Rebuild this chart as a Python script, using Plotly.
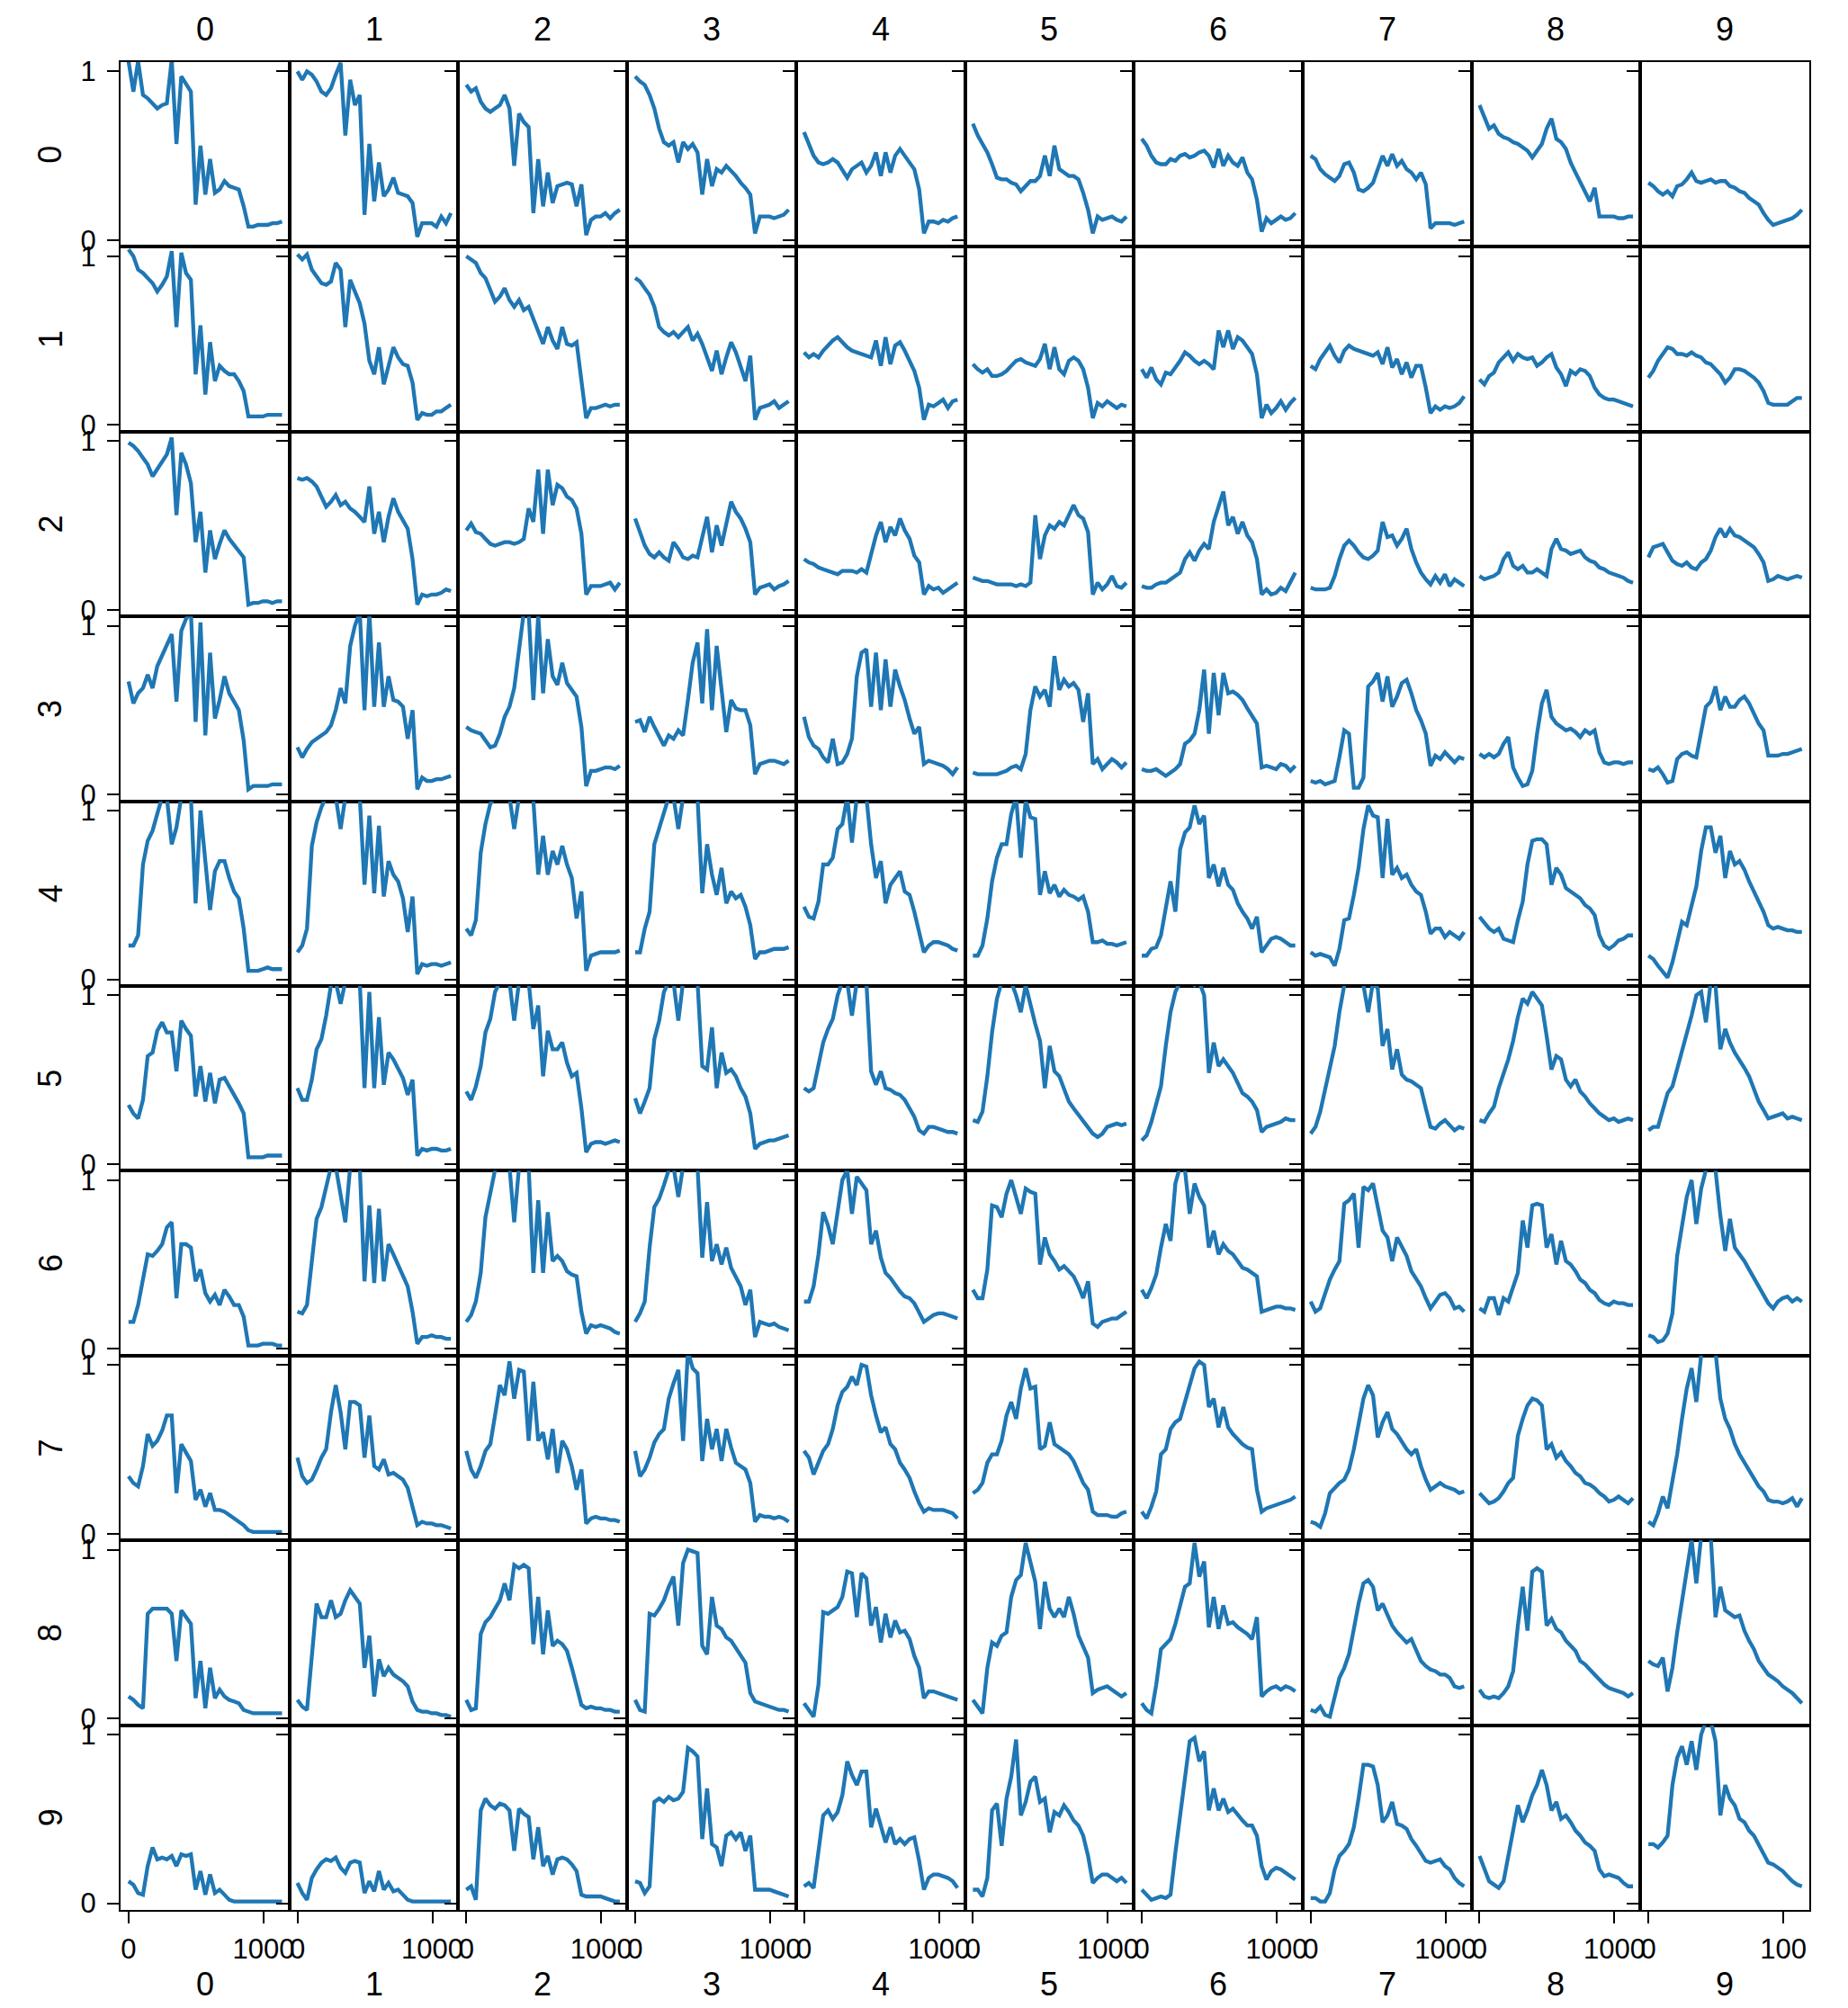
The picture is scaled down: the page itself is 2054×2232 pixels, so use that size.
import plotly.graph_objects as go
from plotly.subplots import make_subplots

# shared sample positions along the x axis
x_samples = [0, 36, 71, 107, 142, 178, 213, 249, 284, 320, 355, 391, 426, 462, 497, 533, 569,
             604, 640, 675, 711, 746, 782, 817, 853, 888, 924, 959, 995, 1030, 1066, 1101, 1137]

col_labels = ["0", "1", "2", "3", "4", "5", "6", "7", "8", "9"]
row_labels = ["0", "1", "2", "3", "4", "5", "6", "7", "8", "9"]
x_tick_values = [0, 1000]
x_tick_text = ["0", "1000"]
x_tick_text_last = ["0", "100"]
y_tick_values = [0, 1]
y_tick_text = ["0", "1"]

row0 = [
    [1.06,0.88,1.06,0.86,0.84,0.81,0.78,0.80,0.81,1.07,0.57,0.97,0.92,0.88,0.21,0.56,0.27,0.48,0.28,0.30,0.35,0.32,0.31,0.30,0.20,0.08,0.08,0.09,0.09,0.09,0.10,0.10,0.11],
    [1.00,0.95,1.00,0.98,0.94,0.88,0.86,0.90,0.98,1.05,0.62,0.95,0.80,0.86,0.15,0.57,0.23,0.46,0.26,0.30,0.37,0.28,0.27,0.26,0.22,0.02,0.10,0.10,0.10,0.08,0.14,0.10,0.16],
    [0.92,0.88,0.90,0.82,0.78,0.76,0.78,0.80,0.86,0.78,0.44,0.75,0.70,0.67,0.16,0.48,0.20,0.40,0.22,0.32,0.33,0.34,0.33,0.20,0.33,0.03,0.12,0.14,0.14,0.16,0.13,0.16,0.18],
    [0.97,0.94,0.92,0.86,0.78,0.66,0.58,0.56,0.58,0.46,0.58,0.54,0.57,0.52,0.27,0.48,0.32,0.42,0.40,0.44,0.41,0.38,0.34,0.31,0.27,0.04,0.14,0.14,0.14,0.13,0.14,0.15,0.18],
    [0.64,0.57,0.50,0.46,0.45,0.46,0.48,0.46,0.42,0.37,0.42,0.44,0.46,0.40,0.44,0.52,0.38,0.52,0.40,0.50,0.54,0.50,0.46,0.42,0.30,0.04,0.11,0.11,0.10,0.12,0.11,0.13,0.14],
    [0.69,0.62,0.57,0.52,0.45,0.37,0.36,0.36,0.34,0.33,0.29,0.32,0.35,0.35,0.38,0.50,0.38,0.56,0.42,0.40,0.38,0.38,0.36,0.28,0.18,0.04,0.14,0.12,0.13,0.14,0.12,0.11,0.14],
    [0.60,0.56,0.50,0.46,0.45,0.45,0.48,0.47,0.50,0.51,0.49,0.50,0.52,0.53,0.50,0.43,0.54,0.44,0.50,0.46,0.44,0.49,0.40,0.36,0.24,0.05,0.13,0.10,0.12,0.14,0.12,0.13,0.16],
    [0.50,0.48,0.42,0.39,0.37,0.35,0.38,0.45,0.46,0.40,0.30,0.29,0.31,0.34,0.42,0.50,0.44,0.51,0.44,0.47,0.42,0.40,0.36,0.40,0.33,0.07,0.10,0.10,0.10,0.10,0.09,0.10,0.11],
    [0.80,0.73,0.66,0.68,0.63,0.61,0.60,0.58,0.57,0.55,0.53,0.49,0.53,0.57,0.66,0.72,0.60,0.58,0.54,0.46,0.40,0.34,0.28,0.23,0.31,0.14,0.14,0.14,0.14,0.13,0.13,0.14,0.14],
    [0.34,0.32,0.29,0.27,0.29,0.26,0.32,0.33,0.36,0.40,0.35,0.34,0.35,0.36,0.34,0.35,0.35,0.32,0.31,0.29,0.28,0.25,0.23,0.21,0.16,0.12,0.09,0.10,0.11,0.12,0.13,0.15,0.18],
]
row1 = [
    [1.04,1.00,0.92,0.90,0.87,0.84,0.79,0.83,0.88,1.03,0.58,1.02,0.90,0.86,0.30,0.59,0.18,0.49,0.26,0.35,0.32,0.30,0.30,0.26,0.20,0.05,0.05,0.05,0.05,0.06,0.06,0.06,0.06],
    [1.01,0.98,1.01,0.92,0.88,0.84,0.83,0.85,0.96,0.92,0.58,0.86,0.79,0.72,0.60,0.38,0.30,0.46,0.24,0.35,0.46,0.40,0.36,0.35,0.25,0.03,0.07,0.06,0.06,0.08,0.08,0.10,0.12],
    [1.00,0.98,0.96,0.90,0.87,0.80,0.73,0.76,0.81,0.74,0.70,0.74,0.68,0.70,0.63,0.56,0.48,0.58,0.50,0.45,0.58,0.48,0.47,0.49,0.28,0.04,0.10,0.10,0.11,0.12,0.11,0.12,0.12],
    [0.87,0.85,0.81,0.77,0.70,0.58,0.55,0.53,0.55,0.52,0.55,0.58,0.50,0.54,0.48,0.40,0.32,0.44,0.30,0.40,0.49,0.43,0.34,0.26,0.41,0.03,0.10,0.11,0.12,0.14,0.10,0.12,0.14],
    [0.43,0.40,0.42,0.40,0.44,0.47,0.50,0.52,0.49,0.46,0.44,0.43,0.42,0.41,0.40,0.50,0.35,0.52,0.36,0.47,0.49,0.44,0.38,0.32,0.22,0.03,0.12,0.11,0.13,0.15,0.10,0.14,0.15],
    [0.36,0.33,0.31,0.33,0.29,0.29,0.30,0.32,0.35,0.38,0.39,0.37,0.36,0.35,0.39,0.48,0.33,0.46,0.33,0.30,0.38,0.40,0.38,0.33,0.22,0.04,0.13,0.11,0.14,0.12,0.10,0.12,0.11],
    [0.33,0.28,0.34,0.27,0.24,0.31,0.30,0.34,0.38,0.43,0.41,0.38,0.36,0.38,0.36,0.33,0.56,0.46,0.56,0.45,0.52,0.50,0.46,0.42,0.30,0.04,0.12,0.07,0.10,0.14,0.09,0.13,0.16],
    [0.35,0.33,0.39,0.43,0.47,0.41,0.37,0.44,0.47,0.45,0.44,0.43,0.42,0.41,0.43,0.36,0.46,0.34,0.39,0.30,0.37,0.28,0.35,0.35,0.22,0.07,0.11,0.09,0.11,0.10,0.11,0.13,0.17],
    [0.27,0.24,0.29,0.31,0.37,0.40,0.43,0.38,0.42,0.40,0.39,0.40,0.35,0.37,0.40,0.42,0.34,0.30,0.23,0.32,0.30,0.33,0.32,0.29,0.22,0.18,0.16,0.15,0.15,0.14,0.13,0.12,0.11],
    [0.28,0.32,0.38,0.42,0.46,0.45,0.42,0.42,0.41,0.43,0.41,0.40,0.37,0.36,0.33,0.30,0.25,0.28,0.33,0.33,0.32,0.30,0.28,0.25,0.20,0.13,0.12,0.12,0.12,0.12,0.14,0.16,0.16],
]
row2 = [
    [0.99,0.97,0.94,0.90,0.86,0.79,0.83,0.88,0.92,1.02,0.56,0.93,0.86,0.75,0.40,0.58,0.22,0.47,0.30,0.39,0.47,0.42,0.38,0.35,0.31,0.03,0.04,0.04,0.05,0.05,0.04,0.05,0.05],
    [0.78,0.77,0.78,0.76,0.73,0.67,0.61,0.64,0.68,0.62,0.64,0.60,0.58,0.55,0.52,0.73,0.45,0.58,0.40,0.55,0.66,0.58,0.53,0.48,0.30,0.03,0.09,0.08,0.09,0.09,0.10,0.12,0.11],
    [0.47,0.51,0.46,0.45,0.42,0.39,0.38,0.39,0.40,0.40,0.39,0.40,0.42,0.60,0.52,0.83,0.45,0.83,0.62,0.74,0.72,0.67,0.65,0.60,0.45,0.09,0.14,0.14,0.14,0.15,0.16,0.12,0.16],
    [0.54,0.45,0.38,0.33,0.31,0.34,0.31,0.29,0.40,0.36,0.31,0.30,0.32,0.31,0.43,0.55,0.34,0.50,0.38,0.52,0.64,0.58,0.54,0.48,0.40,0.09,0.13,0.14,0.15,0.12,0.14,0.15,0.17],
    [0.30,0.28,0.27,0.25,0.24,0.23,0.22,0.21,0.23,0.23,0.23,0.22,0.24,0.22,0.34,0.44,0.52,0.40,0.49,0.44,0.54,0.47,0.42,0.32,0.28,0.09,0.14,0.12,0.13,0.10,0.12,0.14,0.16],
    [0.19,0.18,0.17,0.17,0.16,0.15,0.15,0.15,0.15,0.14,0.15,0.14,0.16,0.56,0.30,0.44,0.50,0.48,0.52,0.50,0.56,0.62,0.56,0.54,0.46,0.09,0.16,0.12,0.15,0.20,0.14,0.13,0.16],
    [0.14,0.13,0.13,0.15,0.16,0.16,0.18,0.20,0.22,0.30,0.34,0.29,0.35,0.39,0.36,0.52,0.62,0.70,0.50,0.55,0.45,0.52,0.44,0.40,0.30,0.09,0.12,0.09,0.10,0.13,0.11,0.17,0.22],
    [0.13,0.12,0.12,0.12,0.13,0.20,0.30,0.38,0.41,0.38,0.34,0.31,0.30,0.32,0.35,0.52,0.43,0.44,0.38,0.42,0.48,0.36,0.28,0.22,0.18,0.15,0.20,0.16,0.21,0.14,0.18,0.16,0.14],
    [0.20,0.18,0.19,0.20,0.22,0.30,0.34,0.26,0.24,0.26,0.22,0.22,0.24,0.22,0.20,0.36,0.42,0.36,0.35,0.33,0.34,0.35,0.31,0.29,0.28,0.25,0.24,0.22,0.21,0.20,0.19,0.17,0.16],
    [0.31,0.37,0.38,0.39,0.34,0.29,0.27,0.26,0.28,0.25,0.24,0.28,0.30,0.35,0.43,0.48,0.43,0.48,0.44,0.43,0.41,0.39,0.37,0.33,0.28,0.17,0.18,0.20,0.19,0.18,0.19,0.20,0.19],
]
row3 = [
    [0.67,0.54,0.60,0.63,0.71,0.63,0.76,0.82,0.88,0.95,0.55,0.97,1.04,1.08,0.43,1.02,0.35,0.84,0.45,0.56,0.70,0.60,0.55,0.50,0.32,0.03,0.05,0.05,0.05,0.05,0.06,0.06,0.06],
    [0.28,0.22,0.27,0.31,0.33,0.35,0.37,0.41,0.50,0.63,0.54,0.88,1.00,1.08,0.50,1.08,0.52,0.90,0.52,0.70,0.56,0.55,0.52,0.33,0.50,0.03,0.10,0.08,0.08,0.09,0.09,0.10,0.11],
    [0.40,0.38,0.37,0.36,0.32,0.28,0.29,0.36,0.46,0.52,0.63,0.86,1.08,1.08,0.56,1.06,0.60,0.92,0.70,0.65,0.78,0.66,0.62,0.58,0.40,0.05,0.14,0.14,0.15,0.16,0.16,0.15,0.17],
    [0.43,0.44,0.37,0.46,0.40,0.34,0.29,0.35,0.33,0.38,0.35,0.56,0.78,0.90,0.54,0.98,0.50,0.88,0.60,0.37,0.56,0.51,0.50,0.50,0.41,0.12,0.18,0.19,0.20,0.20,0.19,0.18,0.20],
    [0.46,0.34,0.29,0.27,0.22,0.19,0.33,0.18,0.19,0.24,0.33,0.70,0.84,0.86,0.52,0.84,0.50,0.80,0.52,0.74,0.64,0.56,0.45,0.36,0.40,0.18,0.20,0.19,0.18,0.17,0.15,0.12,0.16],
    [0.13,0.12,0.12,0.12,0.12,0.12,0.13,0.14,0.16,0.17,0.15,0.24,0.50,0.64,0.58,0.62,0.52,0.82,0.62,0.68,0.64,0.66,0.62,0.43,0.60,0.18,0.21,0.15,0.18,0.21,0.19,0.16,0.19],
    [0.15,0.14,0.14,0.15,0.13,0.11,0.13,0.15,0.18,0.30,0.32,0.36,0.50,0.74,0.36,0.72,0.47,0.72,0.60,0.61,0.59,0.56,0.51,0.46,0.42,0.16,0.17,0.16,0.15,0.18,0.17,0.14,0.17],
    [0.08,0.07,0.08,0.06,0.07,0.08,0.22,0.38,0.36,0.04,0.04,0.10,0.64,0.67,0.72,0.55,0.70,0.52,0.58,0.66,0.68,0.60,0.50,0.44,0.36,0.17,0.23,0.21,0.25,0.22,0.19,0.22,0.21],
    [0.24,0.22,0.24,0.22,0.24,0.30,0.34,0.16,0.10,0.05,0.06,0.14,0.36,0.54,0.62,0.46,0.42,0.40,0.38,0.39,0.37,0.34,0.38,0.36,0.38,0.25,0.19,0.18,0.19,0.19,0.18,0.19,0.19],
    [0.15,0.14,0.16,0.12,0.07,0.08,0.21,0.24,0.25,0.23,0.22,0.38,0.52,0.55,0.64,0.50,0.58,0.52,0.52,0.56,0.58,0.54,0.48,0.42,0.38,0.23,0.23,0.23,0.24,0.24,0.25,0.26,0.27],
]
row4 = [
    [0.20,0.20,0.26,0.68,0.82,0.88,0.98,1.08,1.08,0.80,0.90,1.08,1.08,1.08,0.45,1.00,0.70,0.41,0.64,0.70,0.70,0.60,0.52,0.48,0.30,0.05,0.05,0.05,0.06,0.07,0.06,0.06,0.06],
    [0.16,0.20,0.30,0.79,0.93,1.02,1.08,1.08,1.08,0.89,1.08,1.08,1.08,1.08,0.56,0.97,0.51,0.91,0.49,0.70,0.62,0.58,0.48,0.28,0.49,0.03,0.09,0.08,0.09,0.09,0.08,0.09,0.10],
    [0.30,0.26,0.35,0.75,0.92,1.04,1.08,1.08,1.08,1.08,0.89,1.08,1.08,1.08,1.06,0.62,0.85,0.62,0.76,0.68,0.79,0.68,0.60,0.36,0.52,0.05,0.14,0.15,0.16,0.16,0.16,0.16,0.17],
    [0.16,0.16,0.30,0.40,0.80,0.90,1.00,1.08,1.08,0.89,1.08,1.08,1.08,1.08,0.51,0.80,0.62,0.50,0.66,0.45,0.52,0.48,0.50,0.43,0.32,0.12,0.16,0.16,0.17,0.18,0.18,0.18,0.19],
    [0.43,0.37,0.36,0.46,0.68,0.68,0.72,0.89,0.92,1.08,0.81,1.08,1.08,1.08,0.80,0.60,0.70,0.45,0.56,0.60,0.64,0.52,0.50,0.40,0.28,0.16,0.20,0.22,0.22,0.21,0.20,0.18,0.17],
    [0.14,0.14,0.20,0.36,0.58,0.72,0.80,0.80,0.98,1.08,0.72,1.06,0.96,0.95,0.50,0.64,0.51,0.56,0.49,0.53,0.50,0.49,0.47,0.49,0.40,0.22,0.22,0.23,0.21,0.21,0.20,0.21,0.22],
    [0.14,0.14,0.18,0.19,0.26,0.43,0.58,0.40,0.77,0.87,0.90,1.03,0.92,0.97,0.60,0.68,0.55,0.66,0.56,0.53,0.45,0.40,0.36,0.30,0.37,0.16,0.20,0.24,0.25,0.24,0.22,0.20,0.20],
    [0.16,0.14,0.15,0.14,0.13,0.08,0.18,0.35,0.36,0.50,0.66,0.89,1.03,0.97,0.96,0.60,0.95,0.62,0.66,0.60,0.62,0.56,0.52,0.50,0.40,0.27,0.30,0.30,0.25,0.28,0.26,0.24,0.28],
    [0.37,0.33,0.30,0.28,0.30,0.24,0.23,0.22,0.35,0.46,0.68,0.82,0.83,0.83,0.80,0.56,0.66,0.62,0.54,0.52,0.50,0.48,0.44,0.42,0.38,0.26,0.20,0.18,0.20,0.23,0.24,0.26,0.26],
    [0.14,0.12,0.08,0.04,0.01,0.10,0.22,0.34,0.32,0.45,0.55,0.76,0.90,0.90,0.75,0.85,0.60,0.76,0.68,0.70,0.65,0.58,0.52,0.47,0.40,0.32,0.30,0.31,0.30,0.29,0.29,0.28,0.28],
]
row5 = [
    [0.35,0.30,0.27,0.38,0.64,0.66,0.79,0.84,0.78,0.78,0.55,0.85,0.80,0.76,0.40,0.58,0.37,0.54,0.36,0.50,0.51,0.46,0.42,0.36,0.30,0.04,0.04,0.04,0.04,0.05,0.05,0.05,0.05],
    [0.45,0.38,0.38,0.50,0.68,0.74,0.88,1.06,1.08,0.95,1.08,1.08,1.08,1.08,0.45,1.02,0.45,0.87,0.47,0.66,0.62,0.56,0.51,0.41,0.50,0.05,0.09,0.08,0.09,0.09,0.08,0.08,0.09],
    [0.43,0.38,0.46,0.58,0.78,0.86,1.02,1.08,1.08,1.08,0.85,1.08,1.08,1.08,0.80,0.94,0.52,0.79,0.68,0.68,0.72,0.60,0.52,0.54,0.33,0.07,0.12,0.13,0.13,0.12,0.13,0.14,0.13],
    [0.39,0.30,0.37,0.45,0.74,0.85,1.02,1.08,1.08,0.85,1.08,1.08,1.08,1.08,0.58,0.56,0.81,0.45,0.66,0.54,0.56,0.52,0.45,0.40,0.30,0.09,0.12,0.13,0.14,0.14,0.15,0.16,0.17],
    [0.45,0.43,0.45,0.58,0.72,0.80,0.86,1.00,1.08,1.08,0.88,1.08,1.08,1.08,0.55,0.47,0.55,0.45,0.44,0.42,0.41,0.38,0.33,0.28,0.20,0.18,0.22,0.22,0.21,0.20,0.19,0.19,0.18],
    [0.26,0.25,0.31,0.52,0.78,0.98,1.08,1.08,1.08,1.00,0.90,1.06,0.94,0.83,0.73,0.45,0.70,0.55,0.52,0.44,0.37,0.33,0.29,0.26,0.22,0.18,0.16,0.18,0.22,0.23,0.24,0.23,0.24],
    [0.14,0.17,0.25,0.35,0.46,0.70,0.90,1.02,1.08,1.08,1.08,1.06,1.08,1.00,0.54,0.72,0.58,0.62,0.58,0.54,0.48,0.42,0.40,0.37,0.32,0.19,0.22,0.23,0.24,0.25,0.27,0.26,0.26],
    [0.18,0.22,0.31,0.44,0.58,0.70,0.90,1.06,1.08,1.08,1.08,1.06,0.90,1.08,1.04,0.70,0.80,0.56,0.68,0.53,0.50,0.49,0.47,0.45,0.33,0.22,0.21,0.24,0.26,0.23,0.20,0.22,0.21],
    [0.26,0.25,0.30,0.34,0.45,0.54,0.62,0.73,0.87,0.98,0.95,1.02,0.98,0.94,0.76,0.56,0.64,0.62,0.50,0.46,0.50,0.43,0.40,0.36,0.33,0.30,0.28,0.26,0.27,0.25,0.26,0.27,0.26],
    [0.20,0.22,0.22,0.32,0.42,0.46,0.56,0.68,0.78,0.88,1.00,1.02,0.84,1.08,1.06,0.68,0.80,0.72,0.66,0.62,0.57,0.52,0.44,0.37,0.32,0.27,0.28,0.29,0.30,0.27,0.28,0.27,0.26],
]
row6 = [
    [0.16,0.16,0.26,0.40,0.56,0.55,0.58,0.62,0.72,0.75,0.30,0.62,0.62,0.60,0.40,0.47,0.33,0.28,0.32,0.26,0.35,0.31,0.26,0.26,0.19,0.02,0.02,0.02,0.03,0.03,0.03,0.02,0.02],
    [0.22,0.21,0.26,0.50,0.77,0.84,0.96,1.08,1.08,0.90,0.75,1.08,1.08,1.08,0.40,0.85,0.39,0.83,0.40,0.62,0.56,0.50,0.44,0.37,0.22,0.03,0.07,0.07,0.08,0.07,0.07,0.06,0.06],
    [0.16,0.20,0.28,0.45,0.78,0.92,1.06,1.08,1.08,1.08,0.75,1.08,1.08,1.08,0.45,0.88,0.45,0.81,0.52,0.55,0.52,0.46,0.44,0.43,0.22,0.09,0.14,0.13,0.14,0.13,0.12,0.10,0.09],
    [0.16,0.21,0.28,0.60,0.84,0.89,0.97,1.06,1.08,0.90,1.08,1.08,1.08,1.08,0.54,0.87,0.52,0.62,0.50,0.60,0.48,0.42,0.37,0.26,0.35,0.07,0.16,0.15,0.14,0.15,0.13,0.12,0.11],
    [0.28,0.28,0.37,0.56,0.81,0.73,0.62,0.80,1.00,1.06,0.80,1.02,0.98,0.94,0.62,0.70,0.54,0.45,0.42,0.38,0.34,0.31,0.30,0.27,0.22,0.16,0.18,0.20,0.21,0.21,0.20,0.19,0.18],
    [0.35,0.30,0.30,0.47,0.85,0.84,0.78,0.92,1.00,0.90,0.80,0.95,0.93,0.92,0.50,0.66,0.56,0.52,0.47,0.49,0.46,0.43,0.37,0.30,0.40,0.15,0.13,0.16,0.17,0.18,0.18,0.20,0.22],
    [0.35,0.30,0.36,0.44,0.60,0.74,0.64,0.98,1.08,1.06,0.80,0.98,0.90,0.85,0.60,0.70,0.56,0.62,0.58,0.56,0.52,0.48,0.47,0.45,0.43,0.22,0.23,0.24,0.25,0.25,0.24,0.24,0.23],
    [0.28,0.22,0.24,0.32,0.41,0.47,0.52,0.86,0.88,0.92,0.60,0.96,0.94,0.98,0.85,0.70,0.66,0.52,0.66,0.60,0.55,0.46,0.41,0.37,0.30,0.24,0.28,0.32,0.33,0.30,0.24,0.25,0.22],
    [0.24,0.22,0.30,0.30,0.20,0.30,0.28,0.36,0.45,0.76,0.60,0.85,0.86,0.85,0.60,0.68,0.50,0.64,0.52,0.50,0.46,0.41,0.39,0.35,0.33,0.29,0.27,0.26,0.28,0.27,0.27,0.26,0.26],
    [0.08,0.07,0.04,0.05,0.09,0.21,0.55,0.72,0.90,1.00,0.74,0.95,1.06,1.08,1.06,0.79,0.58,0.77,0.60,0.56,0.52,0.47,0.42,0.37,0.31,0.27,0.24,0.28,0.30,0.31,0.28,0.30,0.28],
]
row7 = [
    [0.34,0.30,0.28,0.40,0.59,0.52,0.55,0.61,0.70,0.70,0.24,0.53,0.48,0.43,0.20,0.26,0.16,0.24,0.14,0.14,0.13,0.11,0.09,0.07,0.05,0.02,0.01,0.01,0.01,0.01,0.01,0.01,0.01],
    [0.45,0.34,0.30,0.32,0.38,0.45,0.50,0.72,0.88,0.72,0.50,0.78,0.78,0.76,0.45,0.70,0.40,0.38,0.44,0.35,0.36,0.34,0.32,0.27,0.15,0.05,0.07,0.06,0.06,0.05,0.05,0.04,0.03],
    [0.49,0.38,0.33,0.40,0.49,0.53,0.70,0.88,0.82,1.02,0.80,0.97,0.96,0.55,0.90,0.55,0.60,0.44,0.62,0.36,0.55,0.50,0.40,0.26,0.38,0.06,0.09,0.10,0.09,0.09,0.08,0.08,0.07],
    [0.49,0.34,0.38,0.45,0.54,0.59,0.62,0.80,0.89,0.97,0.55,1.08,0.98,0.95,0.43,0.68,0.50,0.62,0.43,0.62,0.51,0.42,0.40,0.38,0.30,0.07,0.11,0.10,0.10,0.09,0.10,0.09,0.07],
    [0.49,0.45,0.35,0.42,0.49,0.53,0.62,0.76,0.84,0.87,0.93,0.88,1.00,0.99,0.82,0.70,0.60,0.63,0.53,0.50,0.42,0.38,0.33,0.25,0.18,0.13,0.15,0.14,0.14,0.14,0.13,0.12,0.09],
    [0.24,0.26,0.30,0.42,0.47,0.47,0.55,0.70,0.78,0.68,0.86,0.98,0.86,0.87,0.50,0.52,0.66,0.53,0.51,0.49,0.47,0.43,0.37,0.30,0.26,0.13,0.11,0.11,0.11,0.10,0.10,0.12,0.13],
    [0.13,0.09,0.16,0.25,0.47,0.50,0.62,0.66,0.68,0.78,0.88,0.98,1.02,1.00,0.75,0.80,0.63,0.75,0.63,0.59,0.56,0.53,0.51,0.50,0.26,0.13,0.15,0.16,0.17,0.18,0.19,0.20,0.22],
    [0.07,0.06,0.04,0.12,0.24,0.27,0.30,0.32,0.38,0.50,0.66,0.80,0.88,0.82,0.57,0.66,0.72,0.62,0.59,0.54,0.50,0.47,0.50,0.40,0.32,0.26,0.28,0.30,0.28,0.27,0.26,0.24,0.25],
    [0.24,0.21,0.18,0.19,0.21,0.25,0.30,0.33,0.58,0.68,0.76,0.80,0.79,0.76,0.50,0.53,0.45,0.48,0.43,0.40,0.36,0.34,0.30,0.29,0.27,0.24,0.22,0.19,0.20,0.22,0.20,0.18,0.21],
    [0.07,0.05,0.12,0.22,0.15,0.30,0.47,0.68,0.86,0.98,0.78,1.06,1.08,1.08,1.08,0.80,0.68,0.62,0.53,0.47,0.42,0.37,0.33,0.28,0.25,0.20,0.19,0.19,0.18,0.19,0.21,0.16,0.21],
]
row8 = [
    [0.13,0.11,0.08,0.06,0.62,0.65,0.65,0.65,0.65,0.62,0.34,0.64,0.60,0.56,0.12,0.34,0.06,0.30,0.12,0.17,0.13,0.11,0.10,0.09,0.05,0.04,0.03,0.03,0.03,0.03,0.03,0.03,0.03],
    [0.11,0.07,0.05,0.40,0.68,0.60,0.60,0.70,0.60,0.62,0.70,0.76,0.72,0.68,0.30,0.49,0.13,0.35,0.25,0.30,0.26,0.24,0.22,0.19,0.10,0.05,0.04,0.04,0.03,0.03,0.02,0.02,0.01],
    [0.11,0.05,0.06,0.50,0.57,0.60,0.65,0.70,0.80,0.70,0.91,0.89,0.91,0.89,0.44,0.72,0.38,0.64,0.43,0.46,0.44,0.40,0.30,0.19,0.08,0.06,0.07,0.06,0.06,0.05,0.05,0.04,0.04],
    [0.11,0.05,0.04,0.62,0.61,0.65,0.70,0.78,0.84,0.55,0.92,1.00,0.99,0.98,0.43,0.38,0.72,0.55,0.53,0.48,0.46,0.42,0.38,0.33,0.15,0.10,0.09,0.08,0.07,0.06,0.05,0.05,0.04],
    [0.09,0.05,0.01,0.20,0.63,0.62,0.64,0.66,0.72,0.87,0.86,0.60,0.86,0.83,0.55,0.66,0.45,0.62,0.48,0.58,0.51,0.52,0.47,0.37,0.30,0.12,0.16,0.16,0.15,0.14,0.13,0.12,0.11],
    [0.11,0.07,0.03,0.30,0.45,0.43,0.49,0.51,0.72,0.82,0.85,1.04,0.92,0.81,0.53,0.81,0.65,0.60,0.65,0.60,0.72,0.62,0.49,0.43,0.36,0.15,0.17,0.18,0.19,0.17,0.15,0.13,0.15],
    [0.09,0.05,0.03,0.20,0.41,0.44,0.47,0.56,0.66,0.78,0.80,1.04,0.84,0.93,0.54,0.72,0.53,0.67,0.56,0.57,0.54,0.52,0.50,0.47,0.60,0.13,0.16,0.18,0.19,0.17,0.19,0.18,0.16],
    [0.05,0.04,0.07,0.02,0.01,0.13,0.24,0.30,0.38,0.53,0.68,0.80,0.82,0.78,0.64,0.68,0.62,0.55,0.51,0.48,0.45,0.47,0.40,0.34,0.31,0.29,0.28,0.26,0.26,0.24,0.19,0.18,0.19],
    [0.17,0.13,0.12,0.13,0.12,0.15,0.19,0.28,0.55,0.78,0.52,0.87,0.89,0.87,0.55,0.59,0.53,0.51,0.46,0.43,0.40,0.34,0.32,0.29,0.26,0.23,0.20,0.18,0.17,0.16,0.15,0.13,0.15],
    [0.34,0.32,0.31,0.36,0.16,0.30,0.51,0.70,0.90,1.06,0.80,1.08,1.08,1.08,0.60,0.78,0.64,0.62,0.60,0.61,0.52,0.46,0.41,0.34,0.30,0.26,0.24,0.22,0.19,0.17,0.15,0.12,0.09],
]
row9 = [
    [0.13,0.11,0.06,0.05,0.22,0.33,0.26,0.27,0.26,0.28,0.22,0.29,0.28,0.29,0.08,0.19,0.05,0.17,0.06,0.08,0.05,0.02,0.01,0.01,0.01,0.01,0.01,0.01,0.01,0.01,0.01,0.01,0.01],
    [0.12,0.06,0.02,0.15,0.20,0.24,0.26,0.25,0.27,0.21,0.18,0.24,0.25,0.24,0.06,0.13,0.07,0.19,0.08,0.12,0.07,0.08,0.05,0.02,0.01,0.01,0.01,0.01,0.01,0.01,0.01,0.01,0.01],
    [0.08,0.10,0.02,0.55,0.62,0.58,0.56,0.59,0.58,0.55,0.31,0.56,0.53,0.51,0.26,0.45,0.22,0.28,0.17,0.26,0.27,0.26,0.23,0.19,0.05,0.04,0.04,0.04,0.04,0.03,0.02,0.01,0.01],
    [0.13,0.12,0.06,0.10,0.60,0.62,0.60,0.63,0.61,0.62,0.66,0.92,0.90,0.87,0.38,0.68,0.35,0.33,0.22,0.40,0.42,0.38,0.42,0.31,0.40,0.08,0.08,0.08,0.08,0.07,0.06,0.05,0.04],
    [0.10,0.12,0.09,0.30,0.52,0.55,0.50,0.54,0.64,0.84,0.76,0.70,0.78,0.78,0.45,0.56,0.46,0.36,0.45,0.35,0.38,0.35,0.38,0.39,0.25,0.08,0.15,0.17,0.17,0.16,0.15,0.13,0.09],
    [0.08,0.08,0.04,0.15,0.55,0.59,0.34,0.62,0.75,0.97,0.52,0.60,0.72,0.75,0.60,0.62,0.42,0.54,0.52,0.58,0.54,0.49,0.46,0.40,0.28,0.12,0.15,0.17,0.17,0.15,0.13,0.15,0.12],
    [0.08,0.05,0.02,0.03,0.04,0.03,0.05,0.30,0.52,0.72,0.96,0.98,0.84,0.90,0.55,0.68,0.55,0.62,0.54,0.56,0.52,0.49,0.46,0.46,0.40,0.22,0.14,0.19,0.21,0.20,0.18,0.16,0.14],
    [0.03,0.03,0.01,0.01,0.06,0.20,0.28,0.31,0.35,0.45,0.62,0.82,0.82,0.81,0.70,0.48,0.52,0.60,0.47,0.46,0.44,0.38,0.34,0.30,0.25,0.24,0.25,0.26,0.22,0.20,0.15,0.12,0.10],
    [0.28,0.20,0.13,0.11,0.09,0.13,0.28,0.45,0.58,0.48,0.55,0.64,0.70,0.79,0.70,0.55,0.60,0.50,0.52,0.48,0.43,0.40,0.36,0.34,0.31,0.20,0.16,0.17,0.16,0.15,0.12,0.10,0.10],
    [0.35,0.35,0.33,0.36,0.40,0.70,0.86,0.93,0.82,0.96,0.79,1.00,1.08,1.08,0.96,0.52,0.70,0.62,0.58,0.50,0.48,0.43,0.40,0.35,0.29,0.24,0.23,0.21,0.19,0.16,0.13,0.11,0.10],
]

grid_rows = [row0, row1, row2, row3, row4, row5, row6, row7, row8, row9]

# The page body adds an 8px margin before the figure; the figure is sized and
# its margins placed so that the plot grid lands where the reference shows it.
OFF = 8
W, H = 2054 - OFF, 2232 - OFF
X0, X1, Y0, Y1 = 134, 2011, 69, 2123   # grid box in screenshot pixels
ML, MR = X0 - OFF, (OFF + W) - X1
MT, MB = Y0 - OFF, (OFF + H) - Y1


def px_to_paper_x(px):
    return (px - X0) / (X1 - X0)


def py_to_paper_y(py):
    return (Y1 - py) / (Y1 - Y0)


FONT = "Liberation Sans, Arial, Helvetica, sans-serif"
LINE_COLOR = "#1f77b4"

nr, nc = len(row_labels), len(col_labels)
fig = make_subplots(rows=nr, cols=nc, horizontal_spacing=0, vertical_spacing=0)

for r in range(nr):
    for c in range(nc):
        fig.add_trace(
            go.Scatter(x=x_samples, y=grid_rows[r][c], mode="lines",
                       line=dict(color=LINE_COLOR, width=4.3),
                       showlegend=False, hoverinfo="skip"),
            row=r + 1, col=c + 1)
        last_row = (r == nr - 1)
        fig.update_xaxes(
            range=[-59, 1192], showgrid=False, zeroline=False,
            showline=True, mirror=True, linecolor="black", linewidth=2,
            tickmode="array", tickvals=x_tick_values,
            ticktext=(x_tick_text_last if c == nc - 1 else x_tick_text),
            ticks="outside" if last_row else "", ticklen=13, tickwidth=2, tickcolor="black",
            showticklabels=last_row, ticklabelstandoff=2,
            tickfont=dict(family=FONT, size=31, color="black"),
            row=r + 1, col=c + 1)
        fig.update_yaxes(
            range=[-0.04, 1.055], showgrid=False, zeroline=False,
            showline=True, mirror=True, linecolor="black", linewidth=2,
            tickmode="array", tickvals=y_tick_values, ticktext=y_tick_text,
            ticks="outside", ticklen=13, tickwidth=2, tickcolor="black",
            showticklabels=(c == 0), ticklabelstandoff=6,
            tickfont=dict(family=FONT, size=31, color="black"),
            row=r + 1, col=c + 1)

annotations = []
for c, lab in enumerate(col_labels):
    xc = (c + 0.5) / nc
    annotations.append(dict(text=lab, x=xc, y=py_to_paper_y(33), xref="paper", yref="paper",
                            showarrow=False, xanchor="center", yanchor="middle",
                            font=dict(family=FONT, size=36, color="black")))
    annotations.append(dict(text=lab, x=xc, y=py_to_paper_y(2205), xref="paper", yref="paper",
                            showarrow=False, xanchor="center", yanchor="middle",
                            font=dict(family=FONT, size=36, color="black")))
for r, lab in enumerate(row_labels):
    yc = 1 - (r + 0.5) / nr
    annotations.append(dict(text=lab, x=px_to_paper_x(56), y=yc, xref="paper", yref="paper",
                            showarrow=False, xanchor="center", yanchor="middle", textangle=-90,
                            font=dict(family=FONT, size=36, color="black")))

fig.update_layout(
    width=W, height=H,
    margin=dict(l=ML, r=MR, t=MT, b=MB, pad=0),
    paper_bgcolor="white", plot_bgcolor="white",
    annotations=annotations,
    showlegend=False,
)

fig.write_html("out.html")
